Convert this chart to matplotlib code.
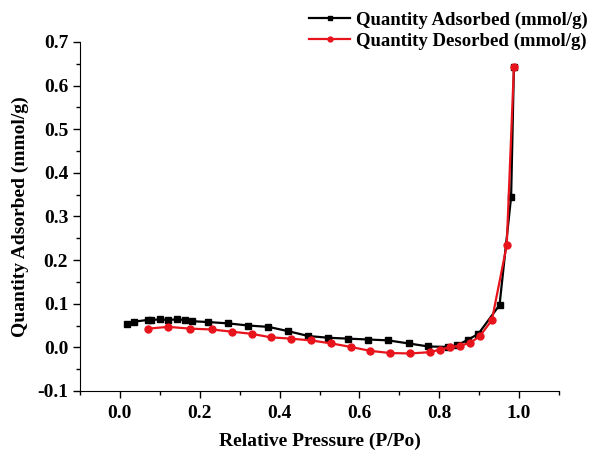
import matplotlib
matplotlib.use('Agg')
import matplotlib.pyplot as plt
from matplotlib.ticker import MultipleLocator

# Isotherme : adsorption / désorption
p_ads = [0.017, 0.036, 0.071, 0.079, 0.100, 0.121, 0.142, 0.163, 0.180, 0.221,
         0.271, 0.322, 0.372, 0.422, 0.472, 0.522, 0.572, 0.622, 0.672, 0.723,
         0.773, 0.823, 0.845, 0.873, 0.898, 0.951, 0.980, 0.987]
q_ads = [0.053, 0.059, 0.063, 0.063, 0.064, 0.063, 0.064, 0.063, 0.060, 0.058,
         0.055, 0.050, 0.047, 0.037, 0.026, 0.022, 0.020, 0.018, 0.016, 0.009,
         0.002, 0.001, 0.005, 0.018, 0.031, 0.097, 0.345, 0.642]

p_des = [0.071, 0.121, 0.175, 0.230, 0.280, 0.330, 0.378, 0.428, 0.478, 0.530,
         0.578, 0.627, 0.677, 0.727, 0.777, 0.802, 0.827, 0.852, 0.877, 0.902,
         0.932, 0.969, 0.987]
q_des = [0.043, 0.047, 0.043, 0.041, 0.036, 0.031, 0.023, 0.020, 0.016, 0.009,
         0.001, -0.008, -0.013, -0.014, -0.011, -0.005, 0.000, 0.004, 0.010, 0.026,
         0.063, 0.234, 0.642]

plt.rcParams['font.family'] = ['Liberation Serif', 'DejaVu Serif']
plt.rcParams['font.weight'] = 'bold'

fig = plt.figure(figsize=(6, 4.54), dpi=100)
ax = fig.add_axes([0.1333, 0.1388, 0.7984, 0.7687])

ax.plot(p_ads, q_ads, color='black', marker='s', markersize=5, linewidth=1.6,
        label='Quantity Adsorbed (mmol/g)')
ax.plot(p_des, q_des, color='#e8141c', marker='o', markersize=5, linewidth=1.6,
        label='Quantity Desorbed (mmol/g)')

ax.set_xlim(-0.1, 1.1)
ax.set_ylim(-0.1, 0.7)
ax.xaxis.set_minor_locator(MultipleLocator(0.1))
ax.yaxis.set_major_locator(MultipleLocator(0.1))
ax.yaxis.set_minor_locator(MultipleLocator(0.05))
ax.set_xticks([0.0, 0.2, 0.4, 0.6, 0.8, 1.0])
ax.xaxis.set_major_formatter(plt.FuncFormatter(lambda v, p: f'{v:.1f}'))
ax.yaxis.set_major_formatter(plt.FuncFormatter(lambda v, p: f'{v:.1f}'))

ax.spines['top'].set_visible(False)
ax.spines['right'].set_visible(False)
ax.tick_params(which='both', direction='out', labelsize=14, width=1.0)
ax.tick_params(which='major', length=5)
ax.tick_params(which='minor', length=3)
ax.tick_params(axis='x', pad=5)

ax.set_xlabel('Relative Pressure (P/Po)', fontsize=14, fontweight='bold', labelpad=8)
ax.set_ylabel('Quantity Adsorbed (mmol/g)', fontsize=14, fontweight='bold', labelpad=6)

fig.legend(loc='upper right', bbox_to_anchor=(0.998, 1.0), frameon=False,
           fontsize=13.5, handlelength=2.2, handletextpad=0.3, labelspacing=0.2,
           borderaxespad=0.2, markerscale=0.7)

plt.savefig('out.png', dpi=100)
